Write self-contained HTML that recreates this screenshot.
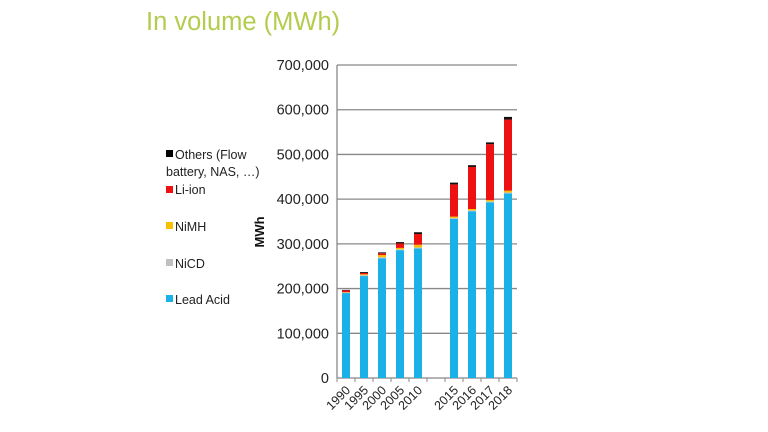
<!DOCTYPE html>
<html><head><meta charset="utf-8"><style>
html,body{margin:0;padding:0;background:#fff;width:768px;height:432px;overflow:hidden}
svg{display:block;font-family:"Liberation Sans",sans-serif}
</style></head><body>
<svg id="s" width="768" height="432" xmlns="http://www.w3.org/2000/svg">
<text x="146" y="30" font-size="25.5" fill="#b3cc4e">In volume (MWh)</text>
<g font-size="12.5" fill="#222">
<rect x="166" y="150" width="7" height="7" fill="#000"/><text x="175" y="159">Others (Flow</text>
<text x="166" y="176">battery, NAS, …)</text>
<rect x="166" y="186" width="7" height="7" fill="#ee1111"/><text x="175" y="194">Li-ion</text>
<rect x="166" y="222" width="7" height="7" fill="#f8c000"/><text x="175" y="231">NiMH</text>
<rect x="166" y="259" width="7" height="7" fill="#c0c0c0"/><text x="175" y="268">NiCD</text>
<rect x="166" y="295" width="7" height="7" fill="#1ab0e8"/><text x="175" y="304">Lead Acid</text>
</g>
<text transform="translate(264,232) rotate(-90)" font-size="13" font-weight="bold" text-anchor="middle" fill="#111">MWh</text>
<g id="g"></g>
</svg>
<script>
var g=document.getElementById('g'),h='';
function Y(v){return 378-v*0.4471;}
for(var i=0;i<=7;i++){var y=Y(i*100);
if(i>0)h+='<line x1="337" x2="517" y1="'+y+'" y2="'+y+'" stroke="#888" stroke-width="1.3"/>';
h+='<text x="329" y="'+(y+5)+'" font-size="14.5" text-anchor="end" fill="#222">'+(i==0?'0':i*100+',000')+'</text>';}
h+='<line x1="337" x2="337" y1="65" y2="378" stroke="#888" stroke-width="1.3"/>';
h+='<line x1="337" x2="517" y1="378" y2="378" stroke="#888" stroke-width="1.3"/>';
for(var k=0;k<=10;k++){var x=337+k*18;h+='<line x1="'+x+'" x2="'+x+'" y1="378" y2="382" stroke="#888"/>';}
var d=[[346,'1990',190,191,192,196,197],[364,'1995',228,230,232,235,237],[382,'2000',268,270,275,279,281],[400,'2005',286,288,291,301,304],[418,'2010',290,292,298,322,326],
[454,'2015',356,358,361,433,437],[472,'2016',373,375,378,472,476],[490,'2017',393,395,398,523,527],[508,'2018',413,415,419,578,584]];
var c=['#1ab0e8','#c0c0c0','#f8c000','#ee1111','#111'];
d.forEach(function(b){var prev=0;for(var j=0;j<5;j++){var v=b[2+j];h+='<rect x="'+(b[0]-4)+'" y="'+Y(v)+'" width="8" height="'+(Y(prev)-Y(v))+'" fill="'+c[j]+'"/>';prev=v;}
h+='<text transform="translate('+(b[0]+5)+',391) rotate(-45)" font-size="12.5" text-anchor="end" fill="#222">'+b[1]+'</text>';});
g.innerHTML=h;
</script>
</body></html>
